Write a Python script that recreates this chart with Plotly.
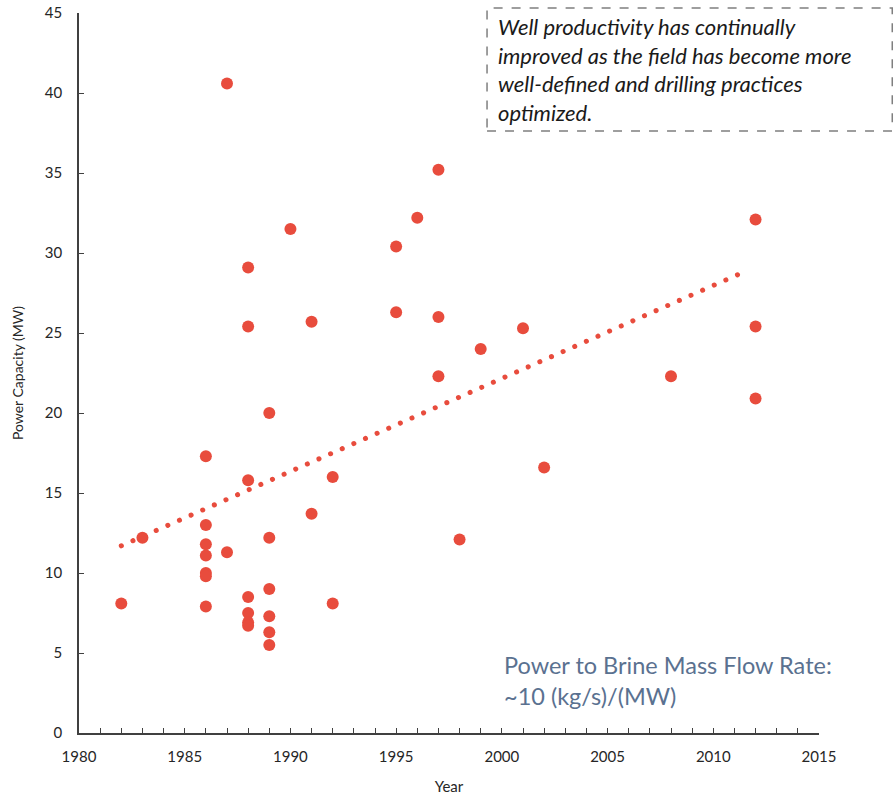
import plotly.graph_objects as go

# Data
years = [1982, 1983,
         1986, 1986, 1986, 1986, 1986, 1986, 1986,
         1987, 1987,
         1988, 1988, 1988, 1988, 1988, 1988, 1988,
         1989, 1989, 1989, 1989, 1989, 1989,
         1990,
         1991, 1991,
         1992, 1992,
         1995, 1995,
         1996,
         1997, 1997, 1997,
         1998, 1999, 2001, 2002, 2008,
         2012, 2012, 2012]
power_mw = [8.1, 12.2,
            17.3, 13.0, 11.8, 11.1, 10.0, 9.8, 7.9,
            40.6, 11.3,
            29.1, 25.4, 15.8, 8.5, 7.5, 6.9, 6.7,
            20.0, 12.2, 9.0, 7.3, 6.3, 5.5,
            31.5,
            25.7, 13.7,
            16.0, 8.1,
            30.4, 26.3,
            32.2,
            35.2, 26.0, 22.3,
            12.1, 24.0, 25.3, 16.6, 22.3,
            32.1, 25.4, 20.9]

trend_years = [1982, 2011.6]
trend_power = [11.7, 28.9]

x_ticks = [1980, 1985, 1990, 1995, 2000, 2005, 2010, 2015]
y_ticks = [0, 5, 10, 15, 20, 25, 30, 35, 40, 45]

red = "#E84C3D"
font_family = "Lato, 'Open Sans', sans-serif"

fig = go.Figure()
fig.add_trace(go.Scatter(
    x=trend_years, y=trend_power, mode="lines",
    line=dict(color=red, width=5, dash="5px,7px"),
    hoverinfo="skip", showlegend=False))
fig.add_trace(go.Scatter(
    x=years, y=power_mw, mode="markers",
    marker=dict(color=red, size=12, line=dict(width=0)),
    showlegend=False))

axis_color = "#404040"
fig.update_xaxes(
    range=[1980, 2015], tickvals=x_ticks, ticktext=[str(v) for v in x_ticks],
    showgrid=False, zeroline=False, showline=True, linecolor=axis_color, linewidth=1.5,
    ticks="inside", ticklen=5, tickcolor=axis_color, tickwidth=1.2,
    minor=dict(dtick=1, ticks="inside", ticklen=5, tickcolor=axis_color, tickwidth=1.2, showgrid=False),
    tickfont=dict(size=15, color="#262626", family=font_family),
    ticklabelstandoff=9,
    automargin=False,
    title=dict(text="Year", font=dict(size=15, color="#262626", family=font_family), standoff=18),
)
fig.update_yaxes(
    range=[0, 45], tickvals=y_ticks,
    showgrid=False, zeroline=False, showline=True, linecolor=axis_color, linewidth=1.5,
    ticks="inside", ticklen=5, tickcolor=axis_color, tickwidth=1.2,
    tickfont=dict(size=15, color="#262626", family=font_family),
    ticklabelstandoff=12,
    ticklabeloverflow="allow",
    automargin=False,
    title=dict(text="Power Capacity (MW)", font=dict(size=14, color="#262626", family=font_family), standoff=18),
)

fig.add_shape(type="rect", xref="paper", yref="paper",
              x0=0.5514, x1=1.099, y0=0.836, y1=1.007,
              line=dict(color="#7f7f7f", width=1.5, dash="dash"), fillcolor="rgba(0,0,0,0)")
fig.add_annotation(
    xref="paper", yref="paper", x=0.564, y=1.003, xanchor="left", yanchor="top",
    align="left", showarrow=False,
    text="<i>Well productivity has continually<br>improved as the field has become more<br>"
         "well-defined and drilling practices<br>optimized.</i>",
    font=dict(size=22, color="#1a1a1a", family=font_family))
fig.add_annotation(
    xref="paper", yref="paper", x=0.571, y=0.117, xanchor="left", yanchor="top",
    align="left", showarrow=False,
    text="Power to Brine Mass Flow Rate:<br>~10 (kg/s)/(MW)",
    font=dict(size=23.5, color="#5A7190", family=font_family))

fig.update_layout(
    width=894, height=797,
    margin=dict(l=79, r=75, t=13, b=64, autoexpand=False),
    plot_bgcolor="white", paper_bgcolor="white",
    font=dict(family=font_family),
)

# Remove the page's default body margin and give the trend line round dots.
post_js = """
document.body.style.margin = '0';
var ln = document.querySelector('.scatterlayer .trace path.js-line');
if (ln) { ln.style.strokeLinecap = 'round'; ln.style.strokeDasharray = '0.1px,12.6px'; }
"""
fig.write_html("out.html", post_script=post_js, config={"displayModeBar": False})
